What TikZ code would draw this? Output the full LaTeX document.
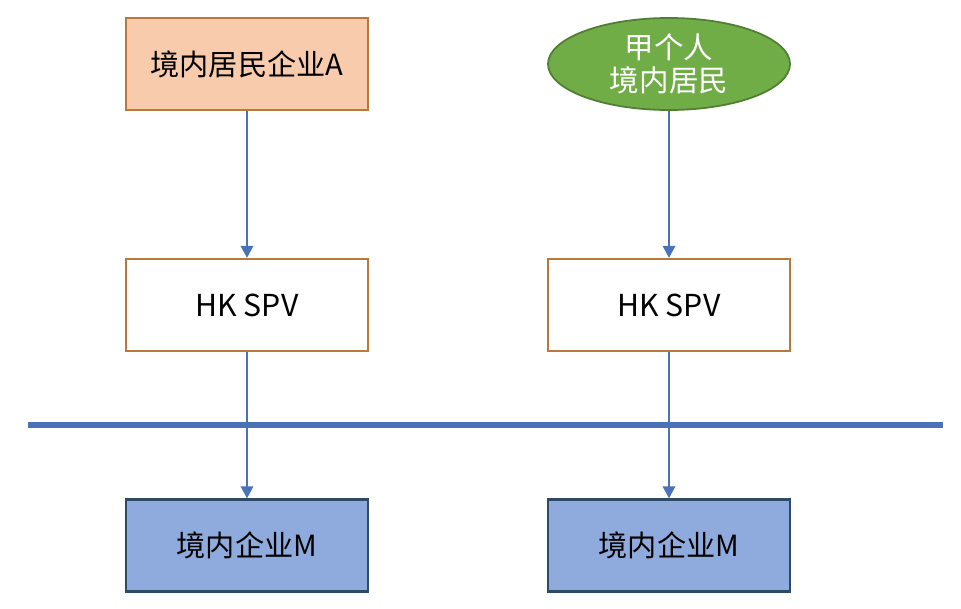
\documentclass[tikz,border=0pt]{standalone}
\usepackage{fontspec}
\setmainfont{Noto Sans CJK SC}
\usetikzlibrary{shapes.geometric, arrows.meta, positioning, calc}
\definecolor{naranja}{HTML}{F8CBAD}
\definecolor{naranjab}{HTML}{B8783E}
\definecolor{verde}{HTML}{70AD47}
\definecolor{verdeb}{HTML}{507E32}
\definecolor{azulc}{HTML}{8FAADC}
\definecolor{azulb}{HTML}{2F4A66}
\definecolor{azul}{HTML}{4A72B8}
\tikzset{
  residente/.style={rectangle, minimum width=2.42cm, minimum height=0.92cm, text centered,
                    draw=naranjab, fill=naranja, line width=0.7pt, font=\fontsize{8.3}{10}\selectfont},
  persona/.style={ellipse, minimum width=2.42cm, minimum height=0.92cm, inner sep=0pt, align=center,
                  draw=verdeb, fill=verde, line width=0.5pt, text=white,
                  font=\fontsize{8.4}{9.5}\selectfont},
  spv/.style={rectangle, minimum width=2.42cm, minimum height=0.92cm, text centered,
              draw=naranjab, fill=white, line width=0.7pt, font=\fontsize{8.6}{10}\selectfont},
  empresa/.style={rectangle, minimum width=2.42cm, minimum height=0.92cm, text centered,
                  draw=azulb, fill=azulc, line width=0.7pt, font=\fontsize{8.3}{10}\selectfont},
  arrow/.style={line width=0.4pt, -{Triangle[width=3.6pt, length=3.4pt]}, color=azul}
}
\begin{document}
\begin{tikzpicture}
  \useasboundingbox (0,0) rectangle (9.61,6.08);
  \node (resA) [residente] at (2.47,5.44) {境内居民企业A};
  \node (jia) [persona] at (6.69,5.44) {甲个人\\境内居民};
  \node (spvA) [spv] at (2.47,3.03) {HK SPV};
  \node (spvB) [spv] at (6.69,3.03) {HK SPV};
  \node (emA) [empresa] at (2.47,0.625) {境内企业M};
  \node (emB) [empresa] at (6.69,0.625) {境内企业M};
  \coordinate (limiteI) at (0.28,1.83);
  \coordinate (limiteD) at (9.43,1.83);
  \draw [color=azul, line width=1.5pt] (limiteI) -- (limiteD);
  \draw [arrow] (resA.south) -- (spvA.north);
  \draw [arrow] (jia.south) -- (spvB.north);
  \draw [arrow] (spvA.south) -- (emA.north);
  \draw [arrow] (spvB.south) -- (emB.north);
\end{tikzpicture}
\end{document}
